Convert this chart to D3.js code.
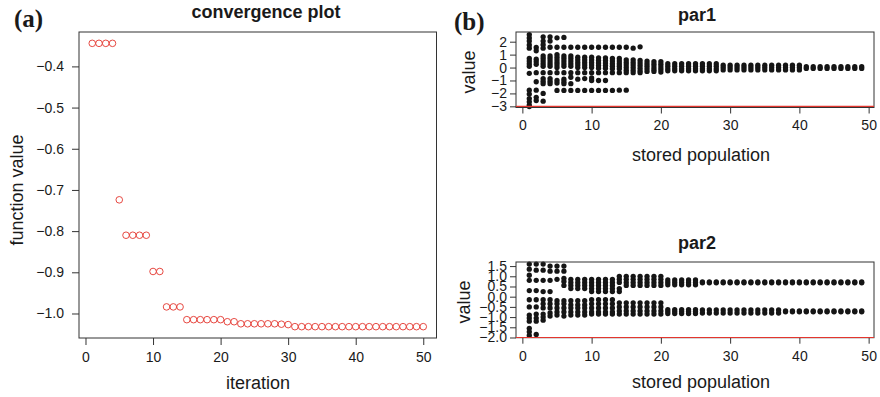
<!DOCTYPE html>
<html>
<head>
<meta charset="utf-8">
<script src="https://cdn.jsdelivr.net/npm/d3@7"></script>
<style>
  body { margin: 0; background: #fff; }
  text { font-family: "Liberation Sans", Arial, Helvetica, sans-serif; fill: #1a1a1a; }
  .tag { font-family: "Liberation Serif", "Times New Roman", serif; font-weight: bold; }
</style>
</head>
<body>
<svg id="chart" width="880" height="397"></svg>
<script>
// (a) best function value per iteration
const funcValue = [
  -0.344, -0.344, -0.344, -0.344, -0.724, -0.810, -0.810, -0.810, -0.810, -0.898,
  -0.898, -0.984, -0.984, -0.984, -1.015, -1.015, -1.015, -1.015, -1.015, -1.015,
  -1.020, -1.020, -1.025, -1.025, -1.025, -1.025, -1.025, -1.025, -1.026, -1.027,
  -1.032, -1.032, -1.032, -1.032, -1.032, -1.032, -1.032, -1.032, -1.032, -1.032,
  -1.032, -1.032, -1.032, -1.032, -1.032, -1.032, -1.032, -1.032, -1.032, -1.032
];

// (b) stored population values, one list per stored population (1..49)
const par1Values = [
  [2.55, 2.29, 2.05, 1.75, 1.5, 0.7, 0.5, 0.3, 0.1, -0.45, -1.75, -2.05, -2.4, -2.65, -2.9, -3.02],
  [1.55, 1.3, 0.65, 0.45, 0.25, -0.4, -1.1, -1.75, -2.3, -2.55],
  [2.38, 2.05, 1.77, 1.5, 0.9, 0.7, 0.5, 0.3, 0.1, -0.4, -0.85, -1.05, -1.25, -2.0, -2.6],
  [2.38, 2.05, 1.57, 0.9, 0.7, 0.5, 0.3, 0.1, -0.4, -0.85, -1.05, -1.25],
  [2.3, 1.57, 1.0, 0.8, 0.6, 0.4, 0.2, 0.0, -0.4, -1.0, -1.2, -1.77],
  [2.33, 1.57, 0.9, 0.7, 0.5, 0.3, 0.1, -0.4, -0.9, -1.1, -1.25, -1.77],
  [1.57, 0.9, 0.7, 0.5, 0.3, 0.1, -0.4, -0.75, -1.25, -1.77],
  [1.57, 0.8, 0.6, 0.4, 0.2, 0.0, -0.4, -0.9, -1.77],
  [1.57, 0.8, 0.6, 0.4, 0.2, 0.0, -0.4, -0.85, -1.77],
  [1.57, 0.8, 0.6, 0.4, 0.2, 0.0, -0.4, -0.8, -1.0, -1.77],
  [1.57, 0.75, 0.55, 0.35, 0.15, -0.05, -0.4, -1.0, -1.77],
  [1.57, 0.75, 0.55, 0.35, 0.15, -0.05, -0.4, -1.0, -1.77],
  [1.57, 0.7, 0.5, 0.3, 0.1, -0.1, -0.4, -1.77],
  [1.57, 0.7, 0.5, 0.3, 0.1, -0.1, -0.4, -1.75],
  [1.57, 0.6, 0.4, 0.2, 0.0, -0.2, -0.4, -1.75],
  [1.5, 0.6, 0.4, 0.2, 0.0, -0.2, -0.4],
  [1.6, 0.55, 0.35, 0.15, -0.05, -0.25, -0.4],
  [0.5, 0.3, 0.1, -0.1, -0.3],
  [0.45, 0.25, 0.05, -0.15, -0.3],
  [0.45, 0.25, 0.05, -0.15, -0.35],
  [0.3, 0.1, -0.1, -0.25], [0.3, 0.1, -0.1, -0.25], [0.3, 0.1, -0.1, -0.25], [0.3, 0.1, -0.1, -0.25],
  [0.3, 0.1, -0.1, -0.25], [0.3, 0.1, -0.1, -0.25], [0.3, 0.1, -0.1, -0.25], [0.3, 0.1, -0.1, -0.25],
  [0.18, 0.0, -0.18], [0.18, 0.0, -0.18], [0.18, 0.0, -0.18], [0.18, 0.0, -0.18],
  [0.18, 0.0, -0.18], [0.18, 0.0, -0.18], [0.18, 0.0, -0.18], [0.18, 0.0, -0.18],
  [0.18, 0.0, -0.18], [0.18, 0.0, -0.18], [0.18, 0.0, -0.18], [0.18, 0.0, -0.18],
  [0.07, -0.07], [0.07, -0.07], [0.07, -0.07], [0.07, -0.07], [0.07, -0.07],
  [0.07, -0.07], [0.07, -0.07], [0.07, -0.07], [0.07, -0.07]
];

const par2Values = [
  [1.6, 1.35, 1.05, 0.8, 0.3, -0.15, -0.5, -0.9, -1.05, -1.2, -1.55, -1.72, -1.9],
  [1.6, 1.3, 0.8, 0.3, -0.15, -0.5, -0.85, -1.05, -1.2, -1.85],
  [1.6, 1.3, 0.8, 0.25, -0.15, -0.35, -0.55, -0.85, -1.0, -1.15],
  [1.5, 1.25, 0.8, 0.25, -0.15, -0.35, -0.55, -0.8, -0.95],
  [1.5, 1.25, 0.85, -0.2, -0.35, -0.55, -0.75, -0.9],
  [1.5, 1.25, 0.9, 0.75, 0.55, -0.2, -0.35, -0.55, -0.75, -0.95],
  [0.85, 0.7, 0.55, 0.4, -0.2, -0.4, -0.55, -0.75, -0.9],
  [0.85, 0.7, 0.55, 0.4, -0.2, -0.4, -0.55, -0.75, -0.9],
  [0.85, 0.7, 0.55, 0.4, -0.2, -0.4, -0.55, -0.75, -0.9],
  [0.85, 0.7, 0.55, 0.4, 0.25, -0.15, -0.35, -0.55, -0.75, -0.85],
  [0.85, 0.7, 0.55, 0.4, 0.25, -0.15, -0.35, -0.55, -0.75, -0.85],
  [0.85, 0.7, 0.55, 0.4, 0.25, -0.15, -0.35, -0.55, -0.75, -0.85],
  [0.85, 0.7, 0.55, 0.4, 0.25, -0.15, -0.35, -0.55, -0.75, -0.85],
  [1.0, 0.85, 0.7, 0.4, 0.25, -0.3, -0.5, -0.7, -0.85],
  [1.0, 0.85, 0.7, 0.55, -0.3, -0.5, -0.7, -0.85],
  [1.0, 0.85, 0.7, 0.55, -0.3, -0.5, -0.7, -0.85],
  [1.0, 0.85, 0.7, 0.55, -0.3, -0.5, -0.7, -0.85],
  [1.0, 0.85, 0.7, 0.55, -0.3, -0.5, -0.7, -0.85],
  [1.0, 0.85, 0.7, 0.55, -0.3, -0.5, -0.7, -0.85],
  [1.0, 0.85, 0.7, 0.55, -0.3, -0.5, -0.7, -0.85],
  [0.82, 0.7, 0.58, -0.63, -0.73, -0.83], [0.82, 0.7, 0.58, -0.63, -0.73, -0.83],
  [0.82, 0.7, 0.58, -0.63, -0.73, -0.83], [0.82, 0.7, 0.58, -0.63, -0.73, -0.83],
  [0.82, 0.7, 0.58, -0.63, -0.73, -0.83],
  [0.72, 0.68, -0.65, -0.8], [0.72, 0.68, -0.65, -0.8], [0.72, 0.68, -0.65, -0.8], [0.72, 0.68, -0.65, -0.8],
  [0.72, 0.68, -0.65, -0.8], [0.72, 0.68, -0.65, -0.8], [0.72, 0.68, -0.65, -0.8], [0.72, 0.68, -0.65, -0.8],
  [0.72, 0.68, -0.65, -0.8], [0.72, 0.68, -0.65, -0.8], [0.72, 0.68, -0.65, -0.8], [0.72, 0.68, -0.65, -0.8],
  [0.72, 0.68, -0.7, -0.74], [0.72, 0.68, -0.7, -0.74], [0.72, 0.68, -0.7, -0.74], [0.72, 0.68, -0.7, -0.74],
  [0.72, 0.68, -0.7, -0.74], [0.72, 0.68, -0.7, -0.74], [0.72, 0.68, -0.7, -0.74], [0.72, 0.68, -0.7, -0.74],
  [0.72, 0.68, -0.7, -0.74], [0.72, 0.68, -0.7, -0.74], [0.72, 0.68, -0.7, -0.74], [0.72, 0.68, -0.7, -0.74]
];

const xTicks = [0, 10, 20, 30, 40, 50];
const funcTicks = [-1.0, -0.9, -0.8, -0.7, -0.6, -0.5, -0.4];
const par1Ticks = [-3, -2, -1, 0, 1, 2];
const par2Ticks = [-2.0, -1.5, -1.0, -0.5, 0.0, 0.5, 1.0, 1.5];
const par1Bound = -3;
const par2Bound = -2;
const par1Limits = [-3.09, 2.75];
const par2Limits = [-2.01, 1.70];

const svg = d3.select('#chart');
const frameColor = '#333';
const red = '#e3362e';

// R style 4% padding of the data range
const pad = (lo, hi) => { const e = (hi - lo) * 0.04; return [lo - e, hi + e]; };

function drawAxes(box, x, y, yTicks, yFmt, tick, yPad) {
    svg.append('g')
        .attr('transform', `translate(0,${box.y1})`)
        .call(d3.axisBottom(x).tickValues(xTicks).tickSize(tick).tickPadding(7).tickFormat(d3.format('d')))
        .call(g => g.select('.domain').remove())
        .call(g => g.selectAll('line').attr('stroke', frameColor))
        .call(g => g.selectAll('text').style('font-size', '14px').attr('fill', '#1a1a1a'));

    svg.append('g')
        .attr('transform', `translate(${box.x0},0)`)
        .call(d3.axisLeft(y).tickValues(yTicks).tickSize(tick).tickPadding(yPad).tickFormat(yFmt))
        .call(g => g.select('.domain').remove())
        .call(g => g.selectAll('line').attr('stroke', frameColor))
        .call(g => g.selectAll('text').style('font-size', '14px').attr('fill', '#1a1a1a'));
}

function drawBox(box) {
    svg.append('rect')
        .attr('x', box.x0).attr('y', box.y0)
        .attr('width', box.x1 - box.x0).attr('height', box.y1 - box.y0)
        .attr('fill', 'none').attr('stroke', frameColor).attr('stroke-width', 1);
}

function label(txt, x, y, size, opts = {}) {
    const t = svg.append('text')
        .attr('x', x).attr('y', y)
        .attr('text-anchor', opts.anchor || 'middle')
        .style('font-size', size + 'px')
        .text(txt);
    if (opts.bold) t.style('font-weight', 'bold');
    if (opts.rotate) t.attr('transform', `rotate(-90,${x},${y})`);
    if (opts.cls) t.attr('class', opts.cls);
    return t;
}

// ---- panel (a)
const boxA = {x0: 79, x1: 436.5, y0: 32, y1: 338};
const xA = d3.scaleLinear().domain(pad(1, funcValue.length)).range([boxA.x0, boxA.x1]);
const yA = d3.scaleLinear().domain(pad(d3.min(funcValue), d3.max(funcValue))).range([boxA.y1, boxA.y0]);

drawAxes(boxA, xA, yA, funcTicks, d3.format('.1f'), 7, 8);

svg.append('g').selectAll('circle')
    .data(funcValue)
    .join('circle')
    .attr('cx', (d, i) => xA(i + 1))
    .attr('cy', d => yA(d))
    .attr('r', 3.3)
    .attr('fill', 'none')
    .attr('stroke', red)
    .attr('stroke-width', 0.9);

drawBox(boxA);
label('convergence plot', 266, 18, 18, {bold: true});
label('iteration', 258, 389, 18);
label('function value', 23, 190, 18, {rotate: true});
label('(a)', 14, 27, 25, {anchor: 'start', cls: 'tag'});
label('(b)', 454, 30, 25, {anchor: 'start', cls: 'tag'});

// ---- panel (b)
const parPanels = [
    {values: par1Values, ticks: par1Ticks, fmt: d3.format('d'), limits: par1Limits, bound: par1Bound,
     box: {x0: 516, x1: 874, y0: 32, y1: 107.5}, title: 'par1', titleY: 21, xlabY: 161, ylabX: 475, ylabY: 72},
    {values: par2Values, ticks: par2Ticks, fmt: d3.format('.1f'), limits: par2Limits, bound: par2Bound,
     box: {x0: 516, x1: 874, y0: 262, y1: 337.7}, title: 'par2', titleY: 249, xlabY: 388, ylabX: 470, ylabY: 302}
];

parPanels.forEach(p => {
    const x = d3.scaleLinear().domain(pad(1, p.values.length)).range([p.box.x0, p.box.x1 + 1]);
    const y = d3.scaleLinear().domain(p.limits).range([p.box.y1, p.box.y0]);

    drawAxes(p.box, x, y, p.ticks, p.fmt, 6, 3);

    const pts = p.values.flatMap((vals, i) => vals.map(v => ({pop: i + 1, v: v})));
    svg.append('g').selectAll('circle')
        .data(pts)
        .join('circle')
        .attr('cx', d => x(d.pop))
        .attr('cy', d => y(d.v))
        .attr('r', 2.65)
        .attr('fill', '#151515');

    drawBox(p.box);

    svg.append('line')
        .attr('x1', p.box.x0).attr('x2', p.box.x1)
        .attr('y1', y(p.bound)).attr('y2', y(p.bound))
        .attr('stroke', red).attr('stroke-width', 1.2);

    label(p.title, 697, p.titleY, 18, {bold: true});
    label('stored population', 701, p.xlabY, 18);
    label('value', p.ylabX, p.ylabY, 18, {rotate: true});
});
</script>
</body>
</html>
